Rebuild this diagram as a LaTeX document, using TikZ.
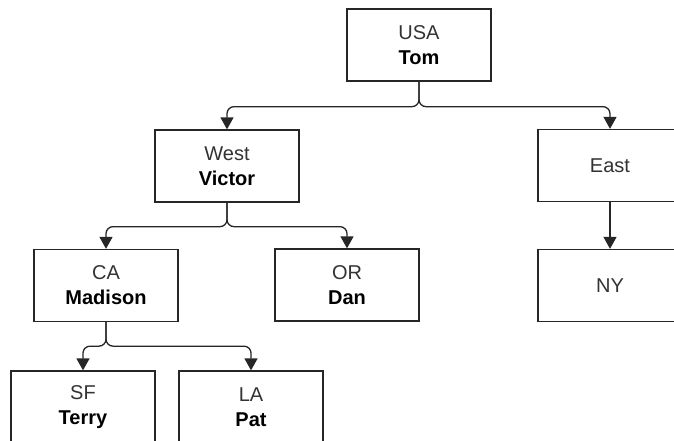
\documentclass[tikz,border=0pt]{standalone}
\usepackage{fontspec}
\setmainfont{Liberation Sans}
\usetikzlibrary{arrows.meta}
\tikzset{
  unit/.style={draw=black!85, line width=1.3pt, fill=white,
    minimum width=144pt, minimum height=72pt, inner sep=0pt,
    align=center, font=\fontsize{20}{25}\selectfont, text=black!80},
  conn/.style={draw=black!85, line width=1.3pt, rounded corners=7pt,
    -{Triangle[length=12pt,width=13pt]}},
}
\newcommand{\who}[1]{\textbf{\textcolor{black}{#1}}}
\begin{document}
\begin{tikzpicture}[x=1pt,y=-1pt]
  \useasboundingbox (0,0) rectangle (674,440);
  \clip (0,0) rectangle (674,440);
  \fill[white] (0,0) rectangle (674,440);

  % org chart units
  \node[unit] (usa)  at (419,45)    {USA\\\who{Tom}};
  \node[unit] (west) at (227,166)   {West\\\who{Victor}};
  \node[unit] (east) at (610,165.5) {East};
  \node[unit] (ca)   at (106,285.5) {CA\\\who{Madison}};
  \node[unit] (or)   at (347,285)   {OR\\\who{Dan}};
  \node[unit] (ny)   at (610,285.5) {NY};
  \node[unit] (sf)   at (83,407)    {SF\\\who{Terry}};
  \node[unit] (la)   at (251,407)   {LA\\\who{Pat}};

  % reporting lines
  \draw[conn] (usa.south)  -- ++(0,25) -| (west.north);
  \draw[conn] (usa.south)  -- ++(0,25) -| (east.north);
  \draw[conn] (west.south) -- ++(0,24) -| (ca.north);
  \draw[conn] (west.south) -- ++(0,24) -| (or.north);
  \draw[conn] (east.south) -- (ny.north);
  \draw[conn] (ca.south)   -- ++(0,24) -| (sf.north);
  \draw[conn] (ca.south)   -- ++(0,24) -| (la.north);
\end{tikzpicture}
\end{document}
